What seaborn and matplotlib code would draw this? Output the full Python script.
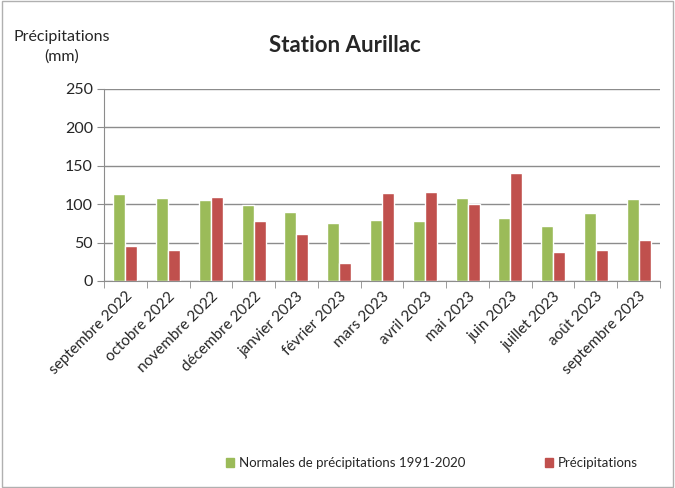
import matplotlib
matplotlib.use("Agg")
import matplotlib.pyplot as plt
import seaborn as sns
import pandas as pd
from matplotlib.patches import Rectangle

months = ["septembre 2022", "octobre 2022", "novembre 2022", "décembre 2022",
          "janvier 2023", "février 2023", "mars 2023", "avril 2023", "mai 2023",
          "juin 2023", "juillet 2023", "août 2023", "septembre 2023"]
normales = [113, 108, 105, 99, 90, 76, 79, 78, 108, 82, 71, 88, 107]
precip = [45, 40, 109, 78, 61, 24, 115, 116, 100, 140, 38, 40, 53]
series = ["Normales de précipitations 1991-2020", "Précipitations"]
colors = ["#9BBB59", "#C0504D"]

df = pd.DataFrame({
    "mois": months * 2,
    "valeur": normales + precip,
    "serie": [series[0]] * len(months) + [series[1]] * len(months),
})

sns.set_style("white")
plt.rcParams["font.family"] = ["Lato", "DejaVu Sans"]

fig = plt.figure(figsize=(6.75, 4.88), dpi=100)
ax = fig.add_axes([104/675, 1 - 281/488, (660 - 104)/675, (281 - 89)/488])

sns.barplot(data=df, x="mois", y="valeur", hue="serie", palette=colors,
            width=0.56, ax=ax, legend=False, saturation=1)

ax.set_ylim(0, 250)
ax.set_xlim(-0.5, len(months) - 0.5)
ax.set_yticks(range(0, 251, 50))
ax.yaxis.grid(True, color="#8c8c8c", linewidth=1)
ax.set_axisbelow(True)
for s in ["top", "right"]:
    ax.spines[s].set_visible(False)
for s in ["left", "bottom"]:
    ax.spines[s].set_color("#8c8c8c")
ax.set_xlabel("")
ax.set_ylabel("")
ax.tick_params(axis="y", labelsize=11.5, length=5, color="#8c8c8c", left=True, pad=3)
ax.set_xticks(range(len(months)))
ax.set_xticklabels(months, rotation=45, ha="right", rotation_mode="anchor", fontsize=11)
ax.tick_params(axis="x", length=0, pad=6)
# category boundary ticks
ax.set_xticks([i - 0.5 for i in range(len(months) + 1)], minor=True)
ax.tick_params(axis="x", which="minor", length=5, color="#8c8c8c", bottom=True)

fig.text(345/675, 1 - 45/488, "Station Aurillac", ha="center", va="center",
         fontsize=16, fontweight="bold")
fig.text(62/675, 1 - 47/488, "Précipitations\n(mm)", ha="center", va="center",
         fontsize=11.5, linespacing=1.5)

# legend
handles = [Rectangle((0, 0), 1, 1, color=c) for c in colors]
fig.legend(handles, series, loc="center", bbox_to_anchor=(432/675, 1 - 463/488),
           ncol=2, frameon=False, fontsize=9.5, handlelength=0.6, handleheight=0.6,
           columnspacing=6, handletextpad=0.4)

fig.patches.append(Rectangle((0.003, 0.003), 0.994, 0.994, transform=fig.transFigure,
                             fill=False, edgecolor="#b0b0b0", linewidth=1))

fig.savefig("out.png", dpi=100)
